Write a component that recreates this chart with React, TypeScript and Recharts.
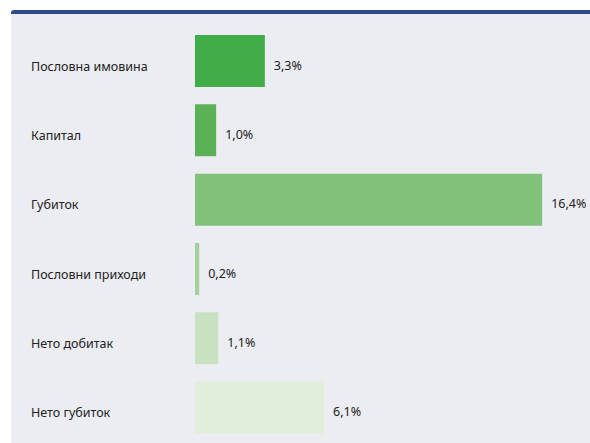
import { BarChart, Bar, XAxis, YAxis, Cell, LabelList } from 'recharts';

const categories = ['Пословна имовина', 'Капитал', 'Губиток', 'Пословни приходи', 'Нето добитак', 'Нето губиток'];
const values = [3.3, 1.0, 16.4, 0.2, 1.1, 6.1];
const valueLabels = ['3,3%', '1,0%', '16,4%', '0,2%', '1,1%', '6,1%'];

const colors = ['#41ad49', '#5bb256', '#82c17a', '#a4d09c', '#c8e1c1', '#e2eedc'];

const data = categories.map((name, i) => ({ name, value: values[i], label: valueLabels[i] }));

const FONT = '"Noto Sans", sans-serif';

const CategoryTick = (props: any) => {
    const { y, payload } = props;
    return (
        <text x={31} y={y} dy={10} textAnchor="start" fontFamily={FONT} fontSize={12.5} fontWeight={400} fill="#222222">
            {payload.value}
        </text>
    );
};

const ValueLabel = (props: any) => {
    const { x, y, width, height, value } = props;
    return (
        <text x={x + width + 9} y={y + height / 2} dy={8.5} textAnchor="start" fontFamily={FONT} fontSize={12.5} fontWeight={400} fill="#222222">
            {value}
        </text>
    );
};

export default function App() {
    return (
        <div style={{ position: 'absolute', left: 0, top: 0, width: 590, height: 443, background: '#ffffff', overflow: 'hidden' }}>
            {/* panel with dark blue top rule */}
            <div style={{ position: 'absolute', left: 11, top: 10, width: 590, height: 440, background: '#ecedf3', borderTop: '4px solid #2e4a8c', borderTopLeftRadius: 3 }} />
            <div style={{ position: 'absolute', left: 0, top: 0 }}>
                <BarChart
                    layout="vertical"
                    width={590}
                    height={443}
                    data={data}
                    margin={{ top: 26, right: 14, bottom: 1, left: 0 }}
                    barCategoryGap={17}
                >
                    <XAxis type="number" domain={[0, 18]} hide />
                    <YAxis type="category" dataKey="name" width={195} axisLine={false} tickLine={false} tick={<CategoryTick />} interval={0} />
                    <Bar dataKey="value" barSize={52} isAnimationActive={false}>
                        {data.map((d, i) => (
                            <Cell key={d.name} fill={colors[i]} />
                        ))}
                        <LabelList dataKey="label" content={<ValueLabel />} />
                    </Bar>
                </BarChart>
            </div>
        </div>
    );
}
